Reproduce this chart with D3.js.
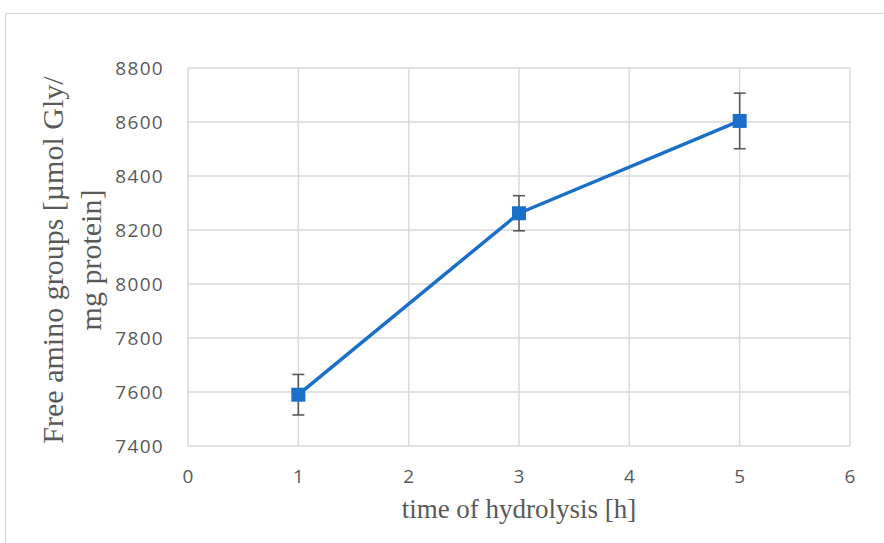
<!DOCTYPE html>
<html>
<head>
<meta charset="utf-8">
<script src="https://cdn.jsdelivr.net/npm/d3@7"></script>
<style>
  html, body { margin: 0; padding: 0; background: #fff; }
  svg { display: block; }
</style>
</head>
<body>
<svg id="chart" width="884" height="543"></svg>
<script>
// Hydrolysis time course: free amino groups with standard deviation
const hours = [1, 3, 5];
const aminoGroups = [7590, 8262, 8604];
const stdDev = [75, 65, 103];

const xTicks = [0, 1, 2, 3, 4, 5, 6];
const yTicks = [7400, 7600, 7800, 8000, 8200, 8400, 8600, 8800];

const xTitle = "time of hydrolysis [h]";
const yTitleLines = ["Free amino groups [µmol Gly/", "mg protein]"];

const svg = d3.select("#chart");
const gridColor = "#d9d9d9";
const textColor = "#595959";
const seriesColor = "#1a70c8";

const plot = { left: 188, right: 850, top: 68, bottom: 446 };

const x = d3.scaleLinear().domain([0, 6]).range([plot.left, plot.right]);
const y = d3.scaleLinear().domain([7400, 8800]).range([plot.bottom, plot.top]);

// chart frame
svg.append("rect")
  .attr("x", 5.5).attr("y", 13.5)
  .attr("width", 1000).attr("height", 1000)
  .attr("fill", "none").attr("stroke", gridColor).attr("stroke-width", 1.2);

// gridlines
const grid = svg.append("g").attr("stroke", gridColor).attr("stroke-width", 1.5);
grid.selectAll("line.h").data(yTicks).join("line")
  .attr("x1", plot.left).attr("x2", plot.right)
  .attr("y1", d => y(d)).attr("y2", d => y(d));
grid.selectAll("line.v").data(xTicks).join("line")
  .attr("y1", plot.top).attr("y2", plot.bottom)
  .attr("x1", d => x(d)).attr("x2", d => x(d));

// tick labels
const tickFont = "'Open Sans', 'Liberation Sans', sans-serif";
svg.append("g").selectAll("text").data(yTicks).join("text")
  .attr("x", 164).attr("y", d => y(d)).attr("dy", "0.36em")
  .attr("text-anchor", "end")
  .attr("font-family", tickFont).attr("font-size", 19)
  .attr("letter-spacing", 1.3)
  .attr("fill", textColor)
  .text(d => d);

svg.append("g").selectAll("text").data(xTicks).join("text")
  .attr("x", d => x(d)).attr("y", 483)
  .attr("text-anchor", "middle")
  .attr("font-family", tickFont).attr("font-size", 19)
  .attr("fill", textColor)
  .text(d => d);

// axis titles
const titleFont = "'Liberation Serif', 'Times New Roman', serif";
svg.append("text")
  .attr("x", 519).attr("y", 518)
  .attr("text-anchor", "middle")
  .attr("font-family", titleFont).attr("font-size", 27)
  .attr("fill", textColor)
  .text(xTitle);

const yTitle = svg.append("g").attr("transform", "translate(0,260) rotate(-90)");
yTitle.selectAll("text").data(yTitleLines).join("text")
  .attr("x", 0).attr("y", (d, i) => 63 + i * 38)
  .attr("text-anchor", "middle")
  .attr("font-family", titleFont).attr("font-size", 30)
  .attr("fill", textColor)
  .text(d => d);

// series line
const points = hours.map((h, i) => ({ h, v: aminoGroups[i], e: stdDev[i] }));
svg.append("path")
  .datum(points)
  .attr("fill", "none")
  .attr("stroke", seriesColor).attr("stroke-width", 3.5)
  .attr("stroke-linejoin", "round")
  .attr("d", d3.line().x(d => x(d.h)).y(d => y(d.v)));

// error bars
const eb = svg.append("g").attr("stroke", textColor).attr("stroke-width", 1.6);
points.forEach(p => {
  const cx = x(p.h);
  eb.append("line").attr("x1", cx).attr("x2", cx).attr("y1", y(p.v + p.e)).attr("y2", y(p.v - p.e));
  eb.append("line").attr("x1", cx - 6).attr("x2", cx + 6).attr("y1", y(p.v + p.e)).attr("y2", y(p.v + p.e));
  eb.append("line").attr("x1", cx - 6).attr("x2", cx + 6).attr("y1", y(p.v - p.e)).attr("y2", y(p.v - p.e));
});

// square markers
svg.append("g").selectAll("rect").data(points).join("rect")
  .attr("x", d => x(d.h) - 7).attr("y", d => y(d.v) - 7)
  .attr("width", 14).attr("height", 14)
  .attr("fill", seriesColor);
</script>
</body>
</html>
